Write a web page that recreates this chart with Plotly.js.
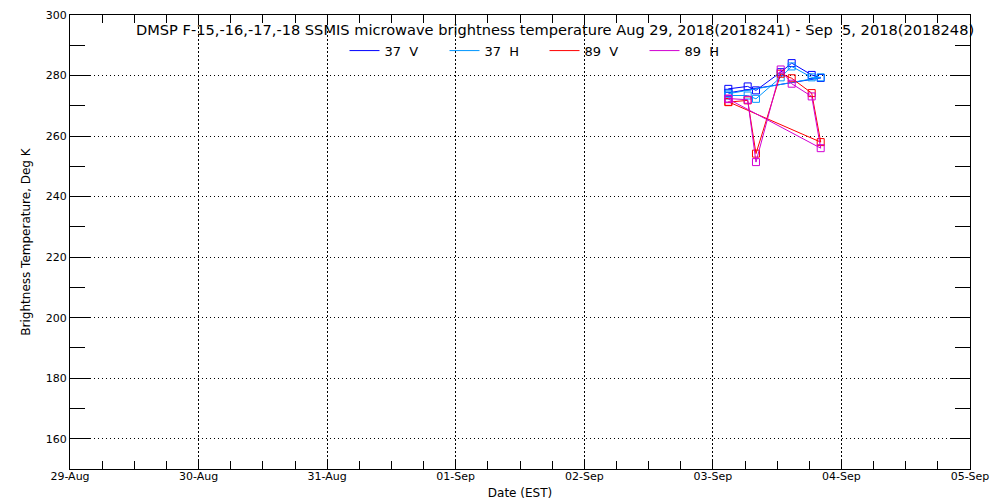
<!DOCTYPE html>
<html>
<head>
<meta charset="utf-8">
<script src="https://cdn.plot.ly/plotly-3.0.1.min.js"></script>
<style>html,body{margin:0;padding:0;background:#fff;}#chart{width:1000px;height:500px;}</style>
</head>
<body>
<div id="chart"></div>
<script>
// Observation times (EST)
const times = [
  '2018-09-03 02:53', '2018-09-03 06:30', '2018-09-03 08:03', '2018-09-03 12:40',
  '2018-09-03 14:43', '2018-09-03 18:27', '2018-09-03 20:08', '2018-09-03 02:55'
];
// Brightness temperatures, Deg K
const tb37V = [275.6, 276.4, 275.1, 281.1, 284.1, 280.2, 279.2, 274.3];
const tb37H = [273.4, 273.4, 272.3, 279.4, 283.0, 279.4, 279.4, 274.0];
const tb89V = [271.2, 271.8, 254.2, 280.6, 279.1, 274.2, 258.0, 271.3];
const tb89H = [272.4, 272.0, 251.4, 282.0, 277.3, 273.1, 256.0, 272.2];

const seriesNames = ['37\u00a0\u00a0V', '37\u00a0\u00a0H', '89\u00a0\u00a0V', '89\u00a0\u00a0H'];
const seriesValues = [tb37V, tb37H, tb89V, tb89H];
const seriesColors = ['#0000ff', '#0096ff', '#ff0000', '#d200d2'];

const FONT = 'DejaVu Sans, sans-serif';
const traces = [];
seriesNames.forEach((name, i) => {
  traces.push({
    x: times, y: seriesValues[i], name: name, type: 'scatter', mode: 'lines',
    line: {color: seriesColors[i], width: 1}, legendgroup: 'g' + i, showlegend: true
  });
  traces.push({
    x: times, y: seriesValues[i], name: name, type: 'scatter', mode: 'markers',
    marker: {symbol: 'square-open', size: 7, color: seriesColors[i], line: {width: 1, color: seriesColors[i]}},
    legendgroup: 'g' + i, showlegend: false
  });
});

const layout = {
  width: 1000, height: 500,
  margin: {l: 70, r: 30, t: 15, b: 31, pad: 0},
  paper_bgcolor: '#fff', plot_bgcolor: '#fff',
  font: {family: FONT, size: 11, color: '#000'},
  title: {
    text: 'DMSP F-15,-16,-17,-18 SSMIS microwave brightness temperature Aug 29, 2018(2018241) - Sep \u00a05, 2018(2018248)',
    font: {family: FONT, size: 14.6, color: '#000'},
    x: 0.539, xanchor: 'center', xref: 'paper',
    y: 0.94, yanchor: 'middle', yref: 'container'
  },
  showlegend: true,
  legend: {
    orientation: 'h', x: 0.305, xanchor: 'left', y: 0.9215, yanchor: 'middle',
    bgcolor: 'rgba(0,0,0,0)', font: {family: FONT, size: 13, color: '#000'},
    entrywidth: 55, entrywidthmode: 'pixels', tracegroupgap: 0
  },
  xaxis: {
    type: 'date',
    range: ['2018-08-29 00:00', '2018-09-05 00:00'],
    dtick: 86400000, tick0: '2018-08-29',
    tickformat: '%d-%b',
    ticks: 'inside', ticklen: 8, tickcolor: '#000',
    ticklabelstandoff: -3,
    showline: true, linecolor: '#000', linewidth: 1, mirror: 'ticks',
    showgrid: true, gridcolor: '#000', griddash: '2px,2px', gridwidth: 1,
    zeroline: false,
    minor: {dtick: 21600000, ticks: 'inside', ticklen: 8, tickcolor: '#000', showgrid: false},
    title: {text: 'Date (EST)', font: {family: FONT, size: 12}, standoff: 6},
    tickfont: {family: FONT, size: 11},
    fixedrange: true
  },
  yaxis: {
    range: [150, 300], dtick: 20, tick0: 0,
    ticks: 'inside', ticklen: 20, tickcolor: '#000',
    showline: true, linecolor: '#000', linewidth: 1, mirror: 'ticks',
    showgrid: true, gridcolor: '#000', griddash: '1px,3px', gridwidth: 1,
    zeroline: false,
    minor: {dtick: 10, ticks: 'inside', ticklen: 15, tickcolor: '#000', showgrid: false},
    title: {text: 'Brightness Temperature, Deg K', font: {family: FONT, size: 12}, standoff: 12},
    tickfont: {family: FONT, size: 11},
    fixedrange: true
  }
};

Plotly.newPlot('chart', traces, layout, {displayModeBar: false, staticPlot: true});
</script>
</body>
</html>
